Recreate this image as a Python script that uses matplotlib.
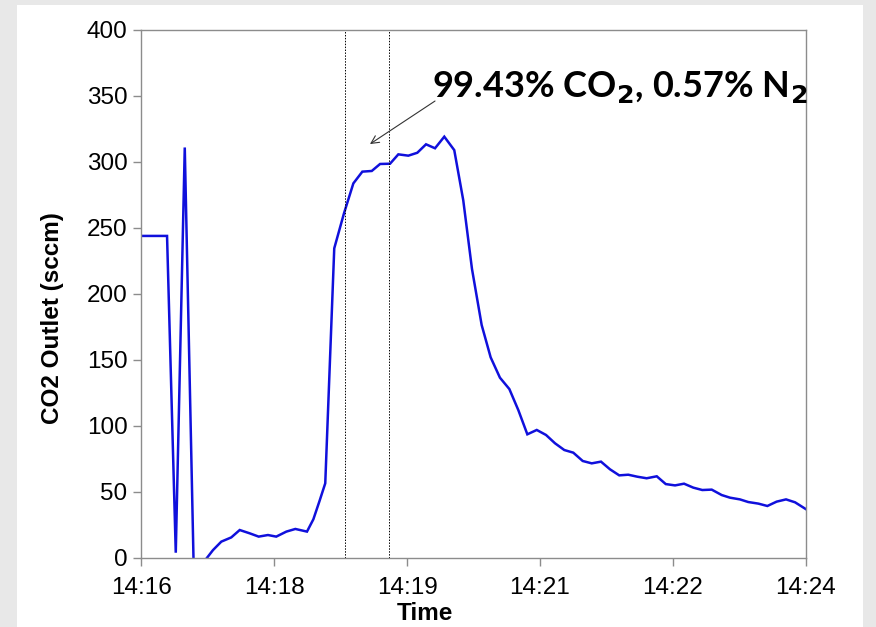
import matplotlib
matplotlib.use("Agg")
import matplotlib.pyplot as plt
from matplotlib.patches import Rectangle
import numpy as np

# Time in seconds after 14:16:00
time_s = [0.0, 6.3, 12.4, 18.6, 24.9, 31.4, 37.9, 44.4, 51.8, 57.8, 65.0, 71.1,
          78.3, 84.8, 91.5, 97.5, 104.8, 111.3, 119.7, 124.3, 128.7, 132.9,
          139.4, 146.4, 153.2, 159.7, 166.5, 172.5, 179.7, 185.7, 192.9, 199.4,
          205.7, 212.2, 218.9, 226.1, 232.6, 238.9, 245.9, 252.4, 259.1, 265.9,
          272.4, 278.9, 285.7, 292.4, 298.9, 305.6, 312.1, 318.9, 325.4, 332.1,
          338.6, 345.3, 351.8, 358.3, 365.1, 372.4, 378.9, 385.6, 392.1, 398.8,
          405.3, 412.1, 419.3, 425.3, 432.5, 438.5, 445.8, 452.3, 459.0, 465.8,
          472.3, 480.0]
co2_outlet = [244, 244, 244, 244, 4, 311, -10, -4, 6, 12.4, 15.6, 21.2,
              18.7, 16.2, 17.4, 16.2, 20, 22, 20, 29.3, 43, 56.6,
              234.6, 261, 283.8, 292.7, 293.2, 298.5, 298.7, 305.8, 304.8, 307,
              313.4, 310.4, 319.2, 309, 271, 219, 176.5, 152, 136.6, 128,
              112, 93.7, 97, 93.2, 86.9, 81.8, 79.8, 73.5, 71.7, 73,
              67.2, 62.6, 63.1, 61.6, 60.4, 61.9, 56, 55, 56.3, 53.3,
              51.5, 51.8, 47.7, 45.7, 44.4, 42.4, 41.2, 39.4, 42.7, 44.4,
              42.2, 37.1]

x_tick_labels = ["14:16", "14:18", "14:19", "14:21", "14:22", "14:24"]
y_ticks = [0, 50, 100, 150, 200, 250, 300, 350, 400]
marker_lines_s = [146.9, 179.3]
annot_text = r"99.43% CO$_\mathbf{2}$, 0.57% N$_\mathbf{2}$"
arrow_head = (165.2, 313.6)
arrow_tail = (212.2, 346.2)
annot_text_pos = (210.0, 349.0)

fig = plt.figure(figsize=(8.76, 6.27), dpi=100)
fig.patch.set_facecolor("#e8e8e8")
bg = Rectangle((17/876, 0), (863-17)/876, 1 - 5/627,
               transform=fig.transFigure, facecolor="white",
               edgecolor="none", zorder=-10)
fig.add_artist(bg)

ax = fig.add_axes([141.3/876, 1 - 558/627, (805.7-141.3)/876, (558-30)/627])
ax.set_zorder(1)
ax.set_facecolor("white")

ax.plot(time_s, co2_outlet, color="#1010dc", lw=1.8, solid_joinstyle="miter")

for xv in marker_lines_s:
    ax.axvline(xv, color="black", lw=0.7, ls=(0, (1.5, 1.5)))

ax.set_xlim(0, 480)
ax.set_ylim(0, 400)
ax.set_xticks(np.linspace(0, 480, len(x_tick_labels)))
ax.set_xticklabels(x_tick_labels)
ax.set_yticks(y_ticks)

for s in ax.spines.values():
    s.set_color("#8c8c8c")
    s.set_linewidth(1.0)

ax.tick_params(axis="both", direction="out", color="#8c8c8c", length=6,
               width=1.0, labelsize=17.5, labelcolor="black")
ax.tick_params(axis="x", pad=8)
ax.tick_params(axis="y", pad=4)
for lab in ax.get_xticklabels() + ax.get_yticklabels():
    lab.set_fontfamily("Liberation Sans")

ax.set_ylabel("CO2 Outlet (sccm)", fontsize=17.5, fontweight="bold",
              fontfamily="Liberation Sans")
ax.yaxis.set_label_coords((53 - 141.3) / 664.4, (558 - 318) / 528)
ax.set_xlabel("Time", fontsize=17.5, fontweight="bold",
              fontfamily="Liberation Sans")
ax.xaxis.set_label_coords((425 - 141.3) / 664.4, -(614 - 558) / 528)
ax.xaxis.label.set_verticalalignment("center")
ax.yaxis.label.set_verticalalignment("center")

ax.annotate("", xy=arrow_head, xytext=arrow_tail, textcoords="data",
            arrowprops=dict(arrowstyle="->", color="#333333", lw=0.8,
                            shrinkA=0, shrinkB=0, mutation_scale=14))
ax.text(annot_text_pos[0], annot_text_pos[1], annot_text, fontsize=26,
        fontweight="bold", fontfamily="Lato", ha="left", va="baseline")

fig.savefig("out.png", dpi=100)
